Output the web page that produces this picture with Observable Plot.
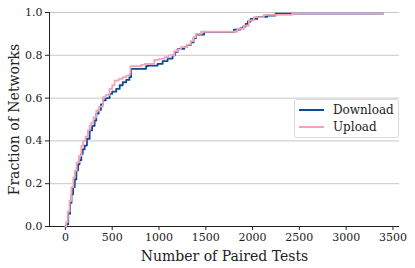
<!DOCTYPE html>
<html>
<head>
<meta charset="utf-8">
<script src="https://cdn.jsdelivr.net/npm/d3@7"></script>
<script src="https://cdn.jsdelivr.net/npm/@observablehq/plot@0.6"></script>
<style>
  html, body { margin: 0; padding: 0; background: #fff; }
  #wrap { position: relative; width: 415px; height: 268px; }
  #wrap svg { overflow: visible; }
  #legend {
    position: absolute; left: 294px; top: 99px; width: 105px; height: 39px;
    box-sizing: border-box; border: 1px solid #d9d9d9; border-radius: 3px; background: rgba(255,255,255,0.9);
    font-family: "DejaVu Serif", serif; font-size: 12px; color: #222;
  }
  #legend .row { position: absolute; left: 4px; height: 16px; display: flex; align-items: center; }
  #legend .sw { display: inline-block; width: 25px; height: 2px; margin-right: 9px; }
</style>
</head>
<body>
<div id="wrap"></div>
<script>
const seriesNames = ["Download", "Upload"];
const seriesColors = ["#0d4a94", "#f4a3b6"];

const downloadX = [0,10,30,50,65,82,100,117,135,150,170,185,205,230,259,285,312,330,355,380,401,430,472,500,543,580,613,650,684,702,862,880,986,1039,1092,1145,1170,1199,1270,1300,1340,1370,1394,1482,1801,1872,1900,1926,1950,1979,2050,2156,2245,3394];
const downloadY = [0,0.01,0.06,0.11,0.15,0.184,0.22,0.262,0.29,0.31,0.34,0.36,0.378,0.41,0.449,0.47,0.495,0.527,0.545,0.57,0.589,0.6,0.62,0.63,0.643,0.66,0.674,0.685,0.698,0.737,0.749,0.752,0.76,0.773,0.784,0.8,0.815,0.83,0.838,0.848,0.861,0.88,0.897,0.908,0.92,0.927,0.935,0.947,0.958,0.97,0.98,0.986,0.995,0.995];

const uploadX = [0,8,25,45,64,85,100,120,145,170,190,215,240,259,277,300,330,360,401,430,472,500,525,570,613,650,684,695,809,850,950,1000,1057,1100,1163,1200,1234,1300,1340,1370,1394,1450,1837,1908,1961,2014,2120,2422,3394];
const uploadY = [0,0.02,0.07,0.12,0.184,0.23,0.26,0.3,0.33,0.378,0.4,0.42,0.45,0.472,0.485,0.51,0.542,0.56,0.604,0.615,0.643,0.66,0.682,0.69,0.698,0.705,0.713,0.749,0.755,0.76,0.779,0.783,0.791,0.8,0.819,0.828,0.838,0.85,0.866,0.885,0.9,0.91,0.924,0.939,0.963,0.978,0.989,0.995,0.995];

const xTicks = [0,500,1000,1500,2000,2500,3000,3500];
const yTicks = [0,0.2,0.4,0.6,0.8,1.0];

const down = downloadX.map((x, i) => ({x, y: downloadY[i]}));
const up = uploadX.map((x, i) => ({x, y: uploadY[i]}));

const chart = Plot.plot({
  width: 415, height: 268,
  marginLeft: 49, marginRight: 16, marginTop: 12, marginBottom: 42,
  style: {fontFamily: "'DejaVu Serif', serif", fontSize: "11px", color: "#222", background: "#fff", overflow: "visible"},
  x: {domain: [-170, 3570], label: null},
  y: {domain: [0, 1], label: null},
  marks: [
    Plot.gridY(yTicks.slice(1), {stroke: "#c8c8c8", strokeOpacity: 1, strokeWidth: 1}),
    Plot.axisX(xTicks, {tickSize: 4, tickPadding: 3, fontSize: 11, label: null, tickFormat: d => String(d)}),
    Plot.axisY(yTicks, {tickSize: 4, tickPadding: 3, fontSize: 11, label: null, tickFormat: d3.format(".1f")}),
    Plot.ruleY([0], {stroke: "#222", strokeWidth: 1}),
    Plot.ruleX([-170], {stroke: "#222", strokeWidth: 1}),
    Plot.line(down, {x: "x", y: "y", curve: "step-after", stroke: seriesColors[0], strokeWidth: 1.8}),
    Plot.line(up, {x: "x", y: "y", curve: "step-after", stroke: seriesColors[1], strokeWidth: 1.8}),
    Plot.text(["Number of Paired Tests"], {frameAnchor: "bottom", dy: 34, fontSize: 14, fill: "#222"}),
    Plot.text(["Fraction of Networks"], {frameAnchor: "left", textAnchor: "middle", dx: -35, rotate: -90, fontSize: 14, fill: "#222"})
  ]
});

const wrap = document.getElementById("wrap");
wrap.appendChild(chart);

const legend = document.createElement("div");
legend.id = "legend";
seriesNames.forEach((name, i) => {
  const row = document.createElement("div");
  row.className = "row";
  row.style.top = (2 + i * 17) + "px";
  const sw = document.createElement("span");
  sw.className = "sw";
  sw.style.background = seriesColors[i];
  const t = document.createElement("span");
  t.textContent = name;
  row.appendChild(sw); row.appendChild(t);
  legend.appendChild(row);
});
wrap.appendChild(legend);
</script>
</body>
</html>
